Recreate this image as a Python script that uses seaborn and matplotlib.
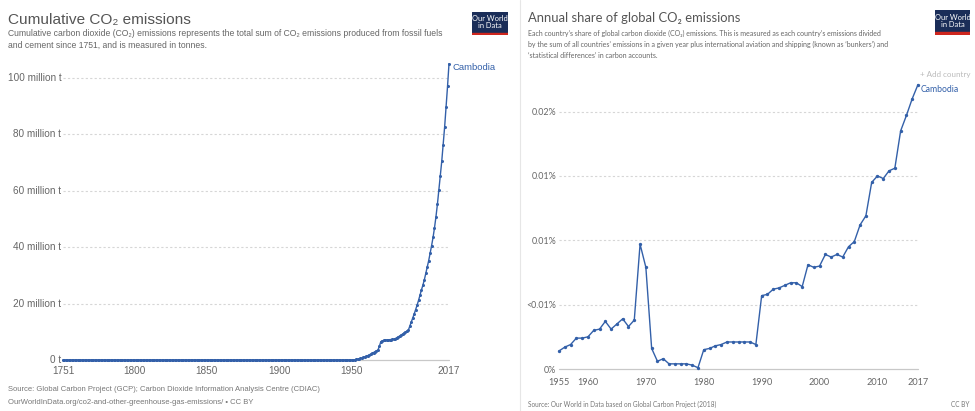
import matplotlib
matplotlib.use("Agg")
import matplotlib.pyplot as plt
import seaborn as sns
import pandas as pd
from matplotlib.patches import Rectangle

# ---------------- data ----------------
# Left: cumulative CO2 emissions, Cambodia (million tonnes)
cum_years = list(range(1751, 2018))
cum_pre1950 = [0.0] * 199  # 1751-1949: no recorded emissions
cum_1950_2017 = [
    0.0, 0.05, 0.1, 0.2, 0.3, 0.4, 0.55, 0.7, 0.9, 1.1,
    1.3, 1.55, 1.8, 2.1, 2.35, 2.65, 2.95, 3.25, 3.5, 4.8,
    6.5, 6.8, 6.95, 7.05, 7.1, 7.15, 7.2, 7.25, 7.3, 7.35,
    7.6, 7.9, 8.2, 8.5, 8.85, 9.2, 9.55, 9.9, 10.25, 10.6,
    12.0, 13.4, 14.8, 16.3, 17.8, 19.4, 21.1, 23.0, 24.8, 26.5,
    28.4, 30.7, 32.9, 35.2, 37.8, 40.5, 43.4, 46.8, 50.7, 55.1,
    60.2, 65.2, 70.4, 76.3, 82.6, 89.7, 97.0, 105.0,
]
cum_values = cum_pre1950 + cum_1950_2017
cum_ticks = [0, 20, 40, 60, 80, 100]
cum_tick_labels = ["0 t", "20 million t", "40 million t", "60 million t",
                   "80 million t", "100 million t"]
cum_xticks = [1751, 1800, 1850, 1900, 1950, 2017]

# Right: annual share of global CO2 emissions, Cambodia (%)
share_years = list(range(1955, 2018))
share_values = [
    0.0014, 0.0017, 0.0019, 0.0024, 0.0024,
    0.0025, 0.0030, 0.0031, 0.0037, 0.0031, 0.0035, 0.0039, 0.0033, 0.0038, 0.0097,
    0.0079, 0.0016, 0.0006, 0.0008, 0.0004, 0.0004, 0.0004, 0.0004, 0.0003, 0.0001,
    0.0015, 0.0016, 0.0018, 0.0019, 0.0021, 0.0021, 0.0021, 0.0021, 0.0021, 0.0019,
    0.0057, 0.0058, 0.0062, 0.0063, 0.0065, 0.0067, 0.0067, 0.0064, 0.0081, 0.0079,
    0.0080, 0.0089, 0.0087, 0.0089, 0.0087, 0.0095, 0.0099, 0.0112, 0.0119, 0.0145,
    0.0150, 0.0148, 0.0154, 0.0156, 0.0185, 0.0197, 0.0210, 0.0221,
]
share_ticks = [0, 0.005, 0.01, 0.015, 0.02]
share_tick_labels = ["0%", "<0.01%", "0.01%", "0.01%", "0.02%"]
share_xticks = [1955, 1960, 1970, 1980, 1990, 2000, 2010, 2017]

country = "Cambodia"

# ---------------- style ----------------
sns.set_theme(style="white")
LEFT_FONT = ["Liberation Sans", "DejaVu Sans"]
RIGHT_FONT = ["Lato", "DejaVu Sans"]
plt.rcParams["font.family"] = LEFT_FONT

BLUE = "#3360a9"
TITLE_C = "#555555"
SUB_C = "#666666"
TICK_C = "#666666"
GRID_C = "#d6d6d6"

W, H = 975, 411
fig = plt.figure(figsize=(W / 100, H / 100), dpi=100)
fig.patch.set_facecolor("white")


def fx(px):
    return px / W


def fy(py):
    return 1 - py / H


def ftext(px, py, s, **kw):
    fig.text(fx(px), fy(py), s, **kw)


# ---------------- left panel ----------------
ax1 = fig.add_axes([fx(63), fy(360), fx(449) - fx(63), (360 - 62.2) / H])
df1 = pd.DataFrame({"year": cum_years, "value": cum_values})
ax1.axhline(0, color="#c8c8c8", lw=0.9, zorder=1)
sns.lineplot(data=df1, x="year", y="value", ax=ax1, color=BLUE, lw=1.0,
             marker="o", markersize=2.2, markeredgewidth=0, zorder=3)
ax1.set_xlim(1751, 2017)
ax1.set_ylim(0, 105.5)
ax1.set_yticks(cum_ticks)
ax1.set_yticklabels(cum_tick_labels)
ax1.set_xticks(cum_xticks)
ax1.set_xticklabels([str(t) for t in cum_xticks])
for t in cum_ticks[1:]:
    ax1.axhline(t, color=GRID_C, lw=0.8, ls=(0, (2, 2)), zorder=0)
ax1.set_xlabel("")
ax1.set_ylabel("")
for s in ax1.spines.values():
    s.set_visible(False)
ax1.tick_params(axis="y", length=0, pad=1.2, labelsize=7.2, colors=TICK_C)
ax1.tick_params(axis="x", length=0, pad=4.5, labelsize=7.2, colors=TICK_C)
for lab in ax1.get_yticklabels():
    lab.set_va("center")
for line in ax1.lines:
    line.set_clip_on(False)
ax1.text(2017 + 2.5, cum_values[-1] - 1.5, country, color=BLUE, fontsize=6.8,
         va="center", ha="left", family=LEFT_FONT)

ftext(8, 20, "Cumulative CO₂ emissions", fontsize=11.1, color=TITLE_C,
      va="center", family=LEFT_FONT)
ftext(8, 34, "Cumulative carbon dioxide (CO₂) emissions represents the total sum of CO₂ "
      "emissions produced from fossil fuels", fontsize=6.2, color=SUB_C, va="center",
      family=LEFT_FONT)
ftext(8, 45.5, "and cement since 1751, and is measured in tonnes.", fontsize=6.2,
      color=SUB_C, va="center", family=LEFT_FONT)
ftext(8, 389, "Source: Global Carbon Project (GCP); Carbon Dioxide Information Analysis "
      "Centre (CDIAC)", fontsize=5.5, color="#777777", va="center", family=LEFT_FONT)
ftext(8, 402, "OurWorldInData.org/co2-and-other-greenhouse-gas-emissions/ • CC BY",
      fontsize=5.5, color="#777777", va="center", family=LEFT_FONT)


def logo(x0, y0, x1, y1):
    axl = fig.add_axes([fx(x0), fy(y1), fx(x1) - fx(x0), (y1 - y0) / H])
    axl.set_xlim(0, 1)
    axl.set_ylim(0, 1)
    axl.axis("off")
    axl.add_patch(Rectangle((0, 0), 1, 1, color="#1a2d58"))
    axl.add_patch(Rectangle((0, 0), 1, 0.11, color="#ce261e"))
    axl.text(0.5, 0.56, "Our World\nin Data", color="white", fontsize=5.4,
             ha="center", va="center", linespacing=1.0, family=RIGHT_FONT)


logo(472, 12.5, 508, 35)

# divider
fig.add_artist(plt.Line2D([fx(520), fx(520)], [0, 1], color="#e6e6e6", lw=0.8))

# ---------------- right panel ----------------
ax2 = fig.add_axes([fx(559), fy(369), fx(918) - fx(559), (369 - 82) / H])
df2 = pd.DataFrame({"year": share_years, "share": share_values})
ax2.axhline(0, color="#c8c8c8", lw=0.9, zorder=1)
sns.lineplot(data=df2, x="year", y="share", ax=ax2, color=BLUE, lw=1.0,
             marker="o", markersize=2.4, markeredgewidth=0, zorder=3)
ax2.set_xlim(1955, 2017)
ax2.set_ylim(0, 0.0223)
ax2.set_yticks(share_ticks)
ax2.set_yticklabels(share_tick_labels, family=RIGHT_FONT)
ax2.set_xticks(share_xticks)
ax2.set_xticklabels([str(t) for t in share_xticks], family=RIGHT_FONT)
for t in share_ticks[1:]:
    ax2.axhline(t, color=GRID_C, lw=0.8, ls=(0, (2, 2)), zorder=0)
ax2.set_xlabel("")
ax2.set_ylabel("")
for s in ax2.spines.values():
    s.set_visible(False)
ax2.tick_params(axis="y", length=0, pad=2, labelsize=6.4, colors=TICK_C)
ax2.tick_params(axis="x", length=0, pad=6.5, labelsize=6.6, colors=TICK_C)
for line in ax2.lines:
    line.set_clip_on(False)

ftext(921, 90, country, color=BLUE, fontsize=6.2, va="center", ha="left",
      family=RIGHT_FONT)
ftext(920, 75, "+ Add country", color="#bbbbbb", fontsize=5.8, va="center",
      ha="left", family=RIGHT_FONT)

ftext(528, 18.5, "Annual share of global CO₂ emissions", fontsize=9.4, color=TITLE_C,
      va="center", family=RIGHT_FONT)
ftext(528, 33.5, "Each country’s share of global carbon dioxide (CO₂) emissions. This is "
      "measured as each country’s emissions divided", fontsize=5.0, color=SUB_C,
      va="center", family=RIGHT_FONT)
ftext(528, 44.5, "by the sum of all countries’ emissions in a given year plus international "
      "aviation and shipping (known as ‘bunkers’) and", fontsize=5.0, color=SUB_C,
      va="center", family=RIGHT_FONT)
ftext(528, 55.5, "‘statistical differences’ in carbon accounts.", fontsize=5.0,
      color=SUB_C, va="center", family=RIGHT_FONT)
ftext(528, 404, "Source: Our World in Data based on Global Carbon Project (2018)",
      fontsize=4.7, color="#777777", va="center", family=RIGHT_FONT)
ftext(969, 404, "CC BY", fontsize=4.7, color="#777777", va="center", ha="right",
      family=RIGHT_FONT)

logo(935, 10.5, 970, 35)

fig.savefig("out.png", dpi=100, facecolor="white")
